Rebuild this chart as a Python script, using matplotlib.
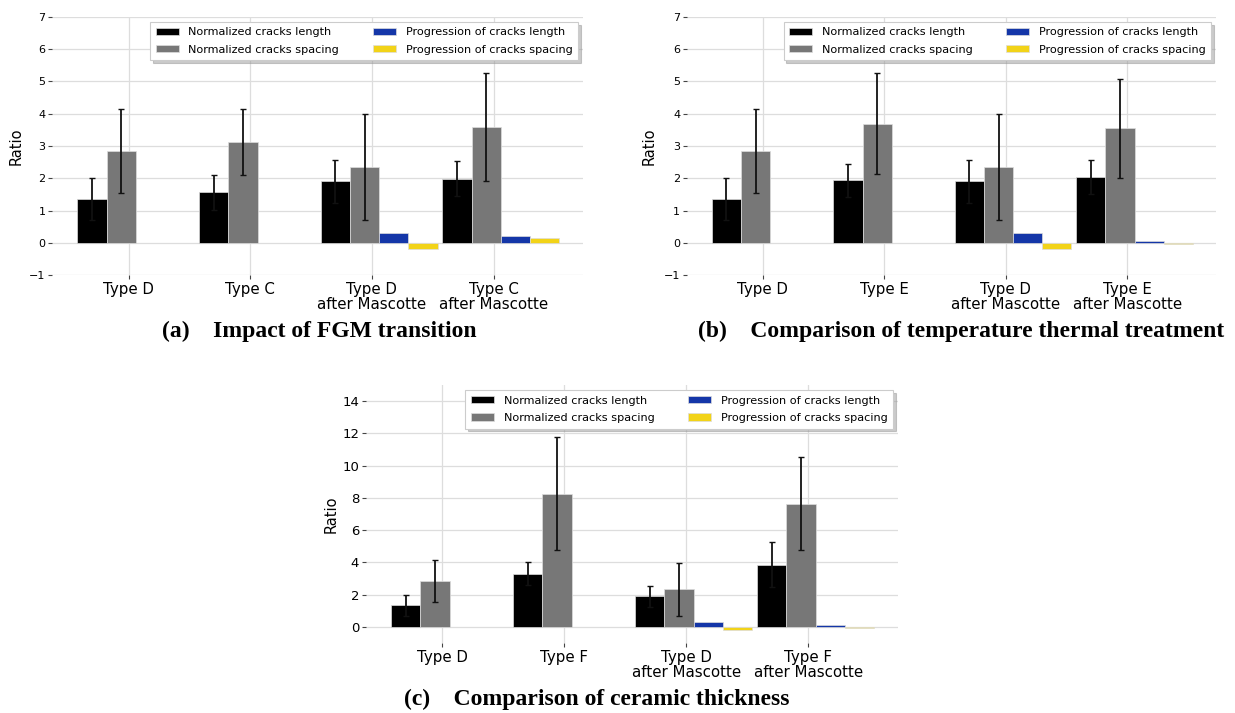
import matplotlib
matplotlib.use('Agg')
import matplotlib.pyplot as plt
import numpy as np

# shared legend / colours
series_names = ['Normalized cracks length', 'Normalized cracks spacing',
                'Progression of cracks length', 'Progression of cracks spacing']
colors = ['#000000', '#777777', '#1436a8', '#f2d318']

# (a) Impact of FGM transition
labels_a = ['Type D', 'Type C', 'Type D\nafter Mascotte', 'Type C\nafter Mascotte']
len_a = [1.35, 1.57, 1.90, 1.99]
len_err_a = [0.65, 0.54, 0.67, 0.53]
spc_a = [2.84, 3.12, 2.35, 3.58]
spc_err_a = [1.30, 1.03, 1.64, 1.67]
prog_len_a = [0, 0, 0.30, 0.21]
prog_spc_a = [0, 0, -0.20, 0.14]

# (b) Comparison of temperature thermal treatment
labels_b = ['Type D', 'Type E', 'Type D\nafter Mascotte', 'Type E\nafter Mascotte']
len_b = [1.35, 1.94, 1.90, 2.04]
len_err_b = [0.65, 0.51, 0.67, 0.54]
spc_b = [2.84, 3.69, 2.35, 3.55]
spc_err_b = [1.30, 1.57, 1.64, 1.53]
prog_len_b = [0, 0, 0.30, 0.05]
prog_spc_b = [0, 0, -0.20, -0.03]

# (c) Comparison of ceramic thickness
labels_c = ['Type D', 'Type F', 'Type D\nafter Mascotte', 'Type F\nafter Mascotte']
len_c = [1.35, 3.31, 1.90, 3.87]
len_err_c = [0.65, 0.72, 0.67, 1.38]
spc_c = [2.84, 8.27, 2.35, 7.65]
spc_err_c = [1.30, 3.50, 1.64, 2.88]
prog_len_c = [0, 0, 0.30, 0.13]
prog_spc_c = [0, 0, -0.20, -0.04]


def draw(ax, labels, lens, len_err, spcs, spc_err, pl, ps, ylim, yticks, ysize, ylab_x):
    x = np.arange(len(labels))
    w = 0.24
    vals = [lens, spcs, pl, ps]
    errs = [len_err, spc_err, None, None]
    for k in range(4):
        ax.bar(x - 0.30 + k * w, vals[k], w, color=colors[k], edgecolor='#dddddd',
               linewidth=0.5, label=series_names[k], zorder=2)
        if errs[k] is not None:
            ax.errorbar(x - 0.30 + k * w, vals[k], yerr=errs[k], fmt='none',
                        ecolor='#111111', elinewidth=1.3, capsize=2, zorder=3)
    ax.set_xticks(x)
    ax.set_xticklabels(labels, fontsize=10.8, linespacing=1.0)
    ax.set_yticks(yticks)
    ax.tick_params(axis='y', labelsize=ysize, length=3, color='#444444', pad=2)
    ax.tick_params(axis='x', length=3, color='#444444', pad=2)
    ax.set_xlim(-0.625, 3.735)
    ax.set_ylim(*ylim)
    ax.set_ylabel('Ratio', fontsize=10.5)
    ax.yaxis.set_label_coords(ylab_x, 0.5)
    ax.grid(True, color='#dddddd', linewidth=0.9, zorder=0)
    ax.set_axisbelow(True)
    for s in ax.spines.values():
        s.set_visible(False)
    leg = ax.legend(ncol=2, loc='upper right', fontsize=8.1, frameon=True,
                    shadow={'color': '#999999', 'alpha': 0.5, 'ox': 2, 'oy': -2},
                    fancybox=False, handlelength=2.05, handleheight=0.62,
                    handletextpad=0.85, borderaxespad=0.45, columnspacing=3.0,
                    labelspacing=0.65, borderpad=0.5)
    leg.get_frame().set_edgecolor('#cccccc')
    leg.get_frame().set_linewidth(0.8)


fig = plt.figure(figsize=(12.35, 7.13), dpi=100)
ax_a = fig.add_axes([0.0425, 0.614, 0.4296, 0.3626])
ax_b = fig.add_axes([0.5563, 0.614, 0.4287, 0.3626])
ax_c = fig.add_axes([0.2964, 0.098, 0.4308, 0.362])

draw(ax_a, labels_a, len_a, len_err_a, spc_a, spc_err_a, prog_len_a, prog_spc_a,
     (-1, 7), range(-1, 8), 8, -0.054)
draw(ax_b, labels_b, len_b, len_err_b, spc_b, spc_err_b, prog_len_b, prog_spc_b,
     (-1, 7), range(-1, 8), 8, -0.057)
draw(ax_c, labels_c, len_c, len_err_c, spc_c, spc_err_c, prog_len_c, prog_spc_c,
     (-1, 15), range(0, 15, 2), 9.5, -0.052)

cap = dict(fontsize=17, fontweight='bold', family='Liberation Serif',
           ha='center', va='center')
fig.text(319 / 1235, 1 - 331 / 713, '(a)    Impact of FGM transition', **cap)
fig.text(961 / 1235, 1 - 331 / 713, '(b)    Comparison of temperature thermal treatment', **cap)
fig.text(597 / 1235, 1 - 699 / 713, '(c)    Comparison of ceramic thickness', **cap)

fig.savefig('out.png', dpi=100)
